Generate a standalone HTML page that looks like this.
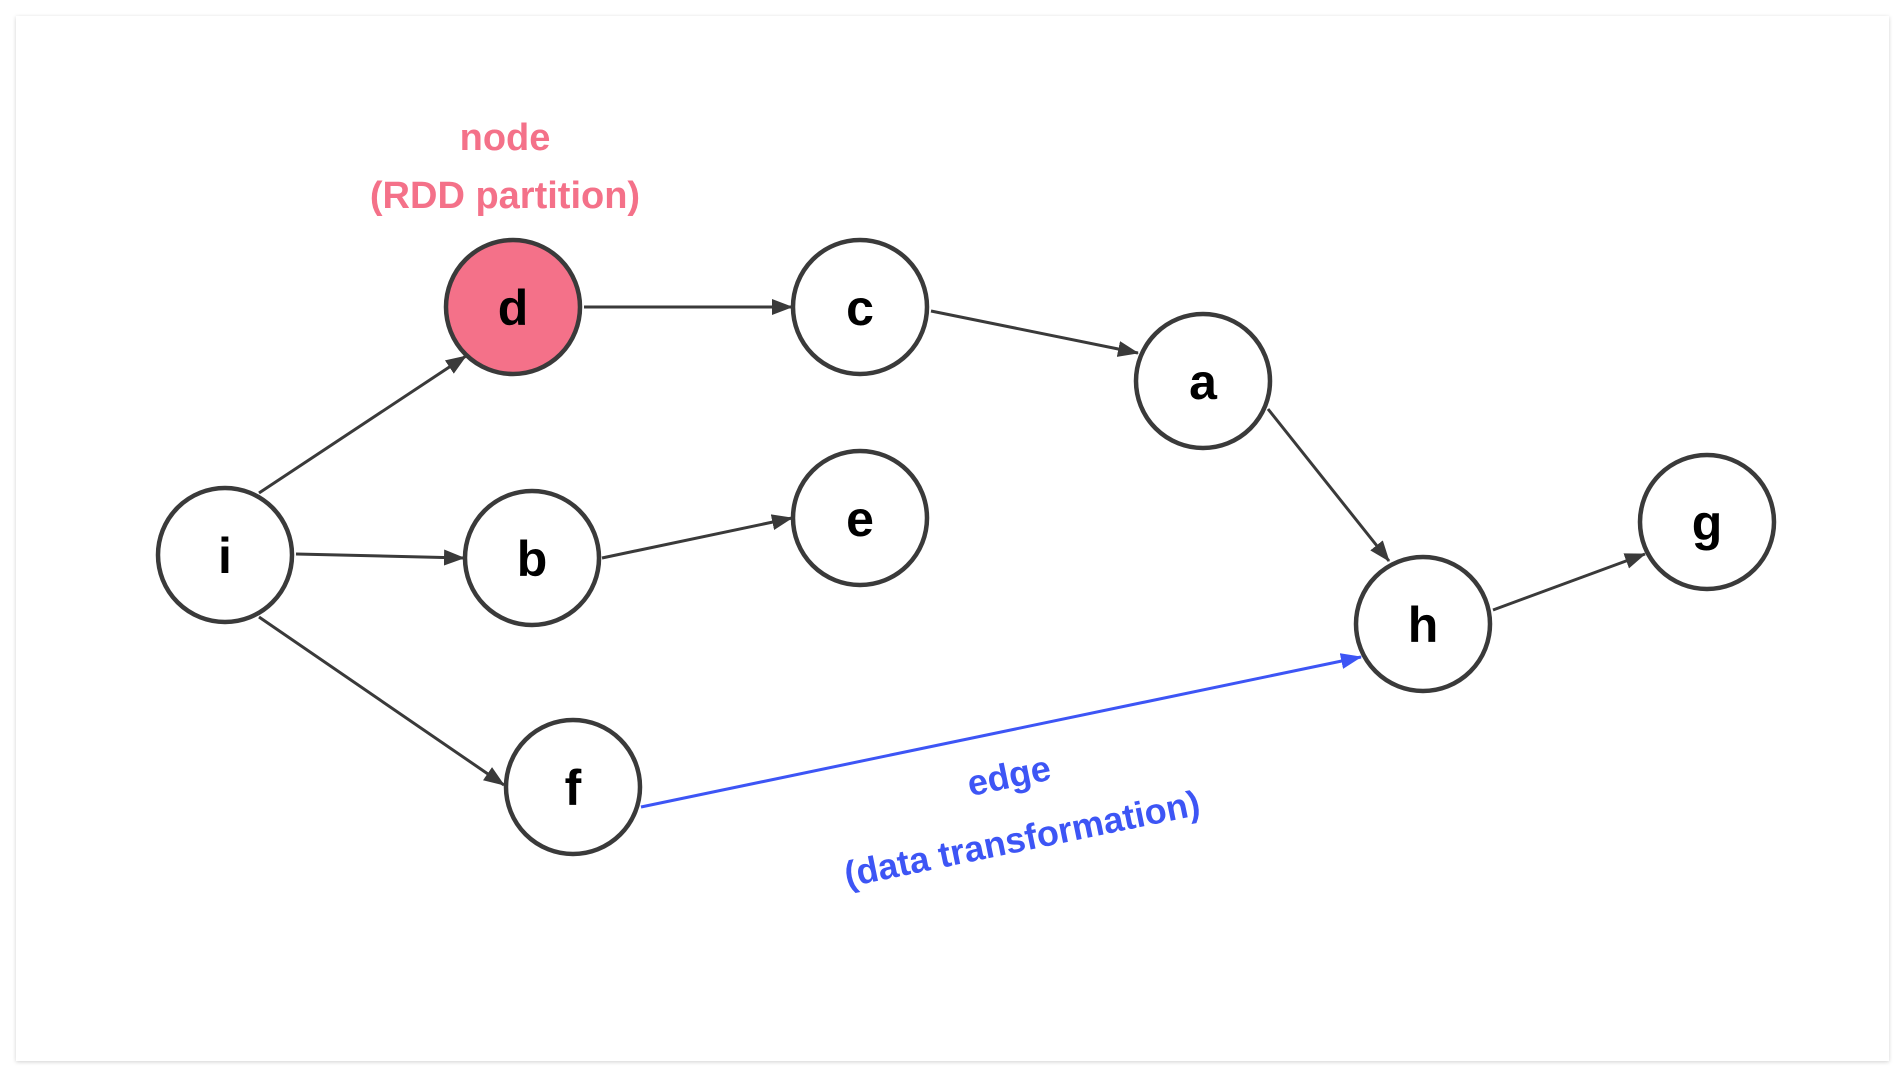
<!DOCTYPE html>
<html><head><meta charset="utf-8"><style>
html,body{margin:0;padding:0;background:#fff;}
body{width:1904px;height:1076px;position:relative;overflow:hidden;font-family:"Liberation Sans",sans-serif;}
.frame{position:absolute;left:16px;top:16px;width:1873px;height:1045px;background:#fff;box-shadow:0 1px 4px rgba(0,0,0,0.18);}
</style></head><body>
<div class="frame"></div>
<svg width="1904" height="1076" style="position:absolute;left:0;top:0">
<defs>
<marker id="ah" markerUnits="userSpaceOnUse" markerWidth="22" markerHeight="18" refX="20" refY="8" orient="auto"><path d="M0,0 L21,8 L0,16 z" fill="#3a3a3a"/></marker>
<marker id="ab" markerUnits="userSpaceOnUse" markerWidth="22" markerHeight="18" refX="20" refY="8" orient="auto"><path d="M0,0 L21,8 L0,16 z" fill="#3d55f5"/></marker>
</defs>
<g stroke="#3a3a3a" stroke-width="3" fill="none" marker-end="url(#ah)">
<line x1="259" y1="493" x2="466" y2="356"/>
<line x1="296" y1="554" x2="464" y2="558"/>
<line x1="259" y1="617" x2="504" y2="785"/>
<line x1="584" y1="307" x2="792" y2="307"/>
<line x1="931" y1="311" x2="1138" y2="353"/>
<line x1="602" y1="558" x2="792" y2="518"/>
<line x1="1268" y1="409" x2="1389" y2="561"/>
<line x1="1493" y1="610" x2="1645" y2="554"/>
</g>
<line x1="641" y1="807" x2="1361" y2="657" stroke="#3d55f5" stroke-width="3" marker-end="url(#ab)"/>
<g stroke="#3a3a3a" stroke-width="4.5" fill="#fff">
<circle cx="513" cy="307" r="67" fill="#f47189"/>
<circle cx="860" cy="307" r="67"/>
<circle cx="1203" cy="381" r="67"/>
<circle cx="225" cy="555" r="67"/>
<circle cx="532" cy="558" r="67"/>
<circle cx="860" cy="518" r="67"/>
<circle cx="573" cy="787" r="67"/>
<circle cx="1423" cy="624" r="67"/>
<circle cx="1707" cy="522" r="67"/>
</g>
<g font-family="Liberation Sans, sans-serif" font-weight="bold" font-size="50" text-anchor="middle" fill="#000">
<text x="513" y="325">d</text>
<text x="860" y="325">c</text>
<text x="1203" y="399">a</text>
<text x="225" y="573">i</text>
<text x="532" y="576">b</text>
<text x="860" y="536">e</text>
<text x="573" y="805">f</text>
<text x="1423" y="642">h</text>
<text x="1707" y="540">g</text>
</g>
<g font-family="Liberation Sans, sans-serif" font-weight="bold" font-size="38" text-anchor="middle" fill="#f47189">
<text x="505" y="150">node</text>
<text x="505" y="208">(RDD partition)</text>
</g>
<g font-family="Liberation Sans, sans-serif" font-weight="bold" font-size="36" text-anchor="middle" fill="#3d55f5">
<text x="1009" y="788" transform="rotate(-11.6 1009 776)">edge</text>
<text x="1022" y="851" transform="rotate(-11.6 1022 839)">(data transformation)</text>
</g>
</svg>
</body></html>
